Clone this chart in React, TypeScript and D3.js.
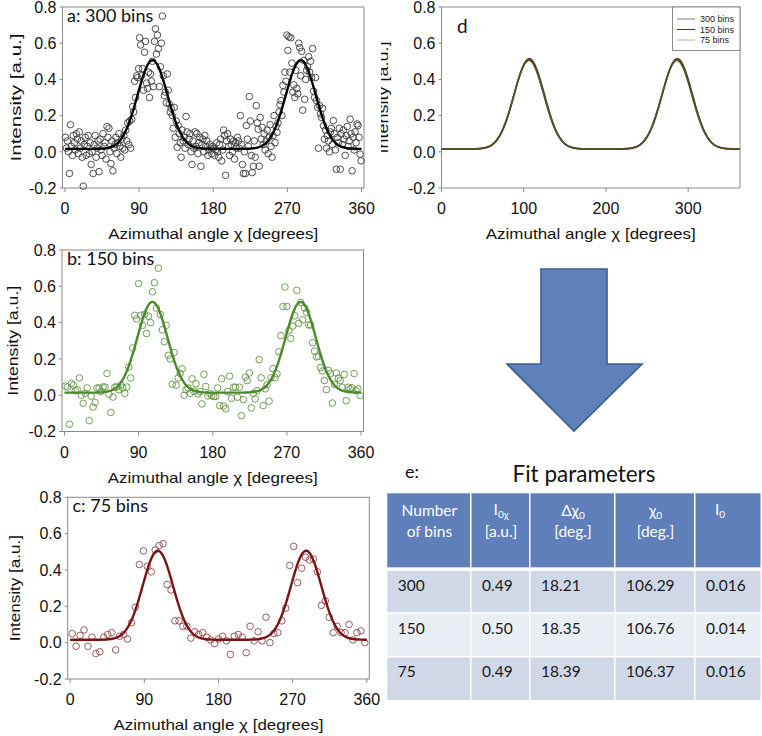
import React from "react";
import * as d3 from "d3";

// measured intensities, one value per angular bin (bin centres at (i + 0.5) * 360 / n)
const BINS_300 = [
  0.08, 0.02, 0.06, 0.0, -0.12, 0.15, 0.03, -0.02, 0.09, 0.05, 0.01, 0.1, 0.07, -0.01, 0.11, 0.02, 0.06, -0.03, -0.19, 0.04, 0.08, -0.02, 0.03, 0.09, -0.01,
  0.05, -0.07, 0.0, -0.12, 0.04, 0.09, -0.03, 0.02, 0.06, -0.11, 0.07, 0.01, -0.02, 0.1, 0.03, 0.05, -0.04, 0.14, 0.08, 0.13, 0.0, -0.065, 0.06, -0.105, 0.02,
  0.04, 0.08, -0.01, 0.05, 0.1, 0.03, -0.03, 0.07, 0.02, 0.09, 0.01, 0.12, 0.06, 0.16, 0.04, 0.17, 0.02, 0.18, 0.25, 0.22, 0.39, 0.3, 0.42, 0.41, 0.46,
  0.63, 0.59, 0.42, 0.46, 0.34, 0.55, 0.61, 0.38, 0.35, 0.44, 0.3, 0.43, 0.39, 0.5, 0.36, 0.61, 0.68, 0.54, 0.645, 0.57, 0.36, 0.47, 0.6, 0.75, 0.42,
  0.31, 0.33, 0.27, 0.43, 0.34, 0.265, 0.22, 0.24, 0.2, 0.13, 0.245, 0.08, 0.17, 0.025, 0.145, 0.1, 0.05, -0.03, 0.12, 0.06, 0.08, 0.02, 0.195, 0.11, 0.04,
  0.07, 0.1, 0.0, -0.07, 0.06, 0.02, 0.11, 0.03, 0.1, -0.01, 0.05, 0.08, -0.08, 0.04, 0.07, 0.0, 0.09, 0.03, 0.06, -0.02, 0.01, 0.04, 0.02, -0.01, 0.03,
  0.02, -0.02, 0.01, 0.05, 0.0, -0.03, 0.04, 0.07, -0.05, 0.01, 0.12, 0.09, -0.13, 0.06, 0.1, 0.03, -0.02, 0.07, 0.04, 0.0, 0.06, -0.04, 0.05, 0.02, 0.08,
  0.06, 0.02, 0.2, 0.04, -0.07, -0.12, 0.0, -0.12, 0.145, 0.07, 0.03, 0.305, 0.17, -0.02, -0.115, -0.08, 0.06, -0.03, 0.255, 0.16, 0.125, -0.08, 0.19, 0.07, 0.135,
  0.04, 0.1, 0.01, 0.06, 0.12, -0.01, 0.08, 0.15, 0.03, -0.03, 0.09, 0.2, 0.05, 0.14, 0.107, 0.16, 0.22, 0.26, 0.283, 0.2, 0.367, 0.33, 0.44, 0.39, 0.645,
  0.56, 0.635, 0.44, 0.63, 0.49, 0.33, 0.37, 0.3, 0.45, 0.35, 0.32, 0.6, 0.575, 0.42, 0.555, 0.23, 0.505, 0.29, 0.4, 0.45, 0.47, 0.525, 0.44, 0.5, 0.41,
  0.57, 0.335, 0.3, 0.41, 0.283, 0.246, 0.02, 0.255, 0.21, 0.19, 0.24, 0.144, 0.07, 0.12, 0.02, 0.09, 0.06, 0.0, 0.11, 0.13, 0.04, 0.172, 0.1, 0.01, -0.096,
  0.08, 0.05, 0.13, -0.096, 0.1, 0.04, 0.12, 0.07, -0.02, 0.09, 0.14, 0.03, 0.06, 0.18, 0.1, -0.105, 0.08, 0.01, 0.11, 0.05, 0.154, 0.145, 0.08, -0.013, -0.05,
];

const BINS_150 = [
  0.05, 0.045, -0.16, 0.065, 0.055, 0.025, 0.03,
  0.095, 0.0, -0.045, 0.01, 0.04, -0.14, -0.005, -0.065, -0.04, 0.04, 0.04, 0.02,
  0.045, 0.045, 0.12, 0.005, -0.095, -0.01, 0.045, 0.045, 0.03, 0.055, 0.04,
  0.01, 0.045, 0.155, 0.095, 0.26, 0.44, 0.42, 0.615, 0.44, 0.385, 0.445, 0.34, 0.435, 0.4, 0.57, 0.62,
  0.48, 0.7, 0.445, 0.36, 0.295, 0.385, 0.22, 0.2, 0.06, 0.235, 0.055, 0.095, 0.12, 0.145, 0.0, 0.03,
  0.04, 0.01, 0.09, 0.022, 0.063, 0.007, 0.02,
  -0.048, 0.115, 0.048, -0.004, 0.01, -0.004,
  -0.007, -0.007, 0.04, -0.057, 0.09, -0.06, -0.075, 0.02,
  0.105, -0.017, 0.044, 0.044, -0.011, 0.044, -0.113, -0.024, 0.1, 0.081, 0.122, -0.07, 0.01,
  -0.02, 0.026, 0.196, 0.096, -0.057, 0.035, 0.057, -0.033, 0.096, 0.146, 0.096, 0.118, 0.239, 0.328,
  0.489, 0.596, 0.489, 0.356, 0.313, 0.381, 0.437, 0.578, 0.396, 0.511, 0.415, 0.48, 0.456, 0.387,
  0.387, 0.289, 0.243, 0.211, 0.215, 0.152, 0.133, 0.081, 0.031, 0.137, 0.119, -0.043, 0.06,
  0.122, 0.094, 0.081, 0.044, 0.115, -0.03, 0.044, 0.035, 0.041, 0.119, 0.026, 0.035, -0.002,
];

const BINS_75 = [
  0.05, -0.02, 0.04, 0.07, -0.02, 0.03, -0.06, -0.05, 0.03,
  0.045, 0.055, -0.04, 0.035, 0.045, 0.02, 0.11, 0.195, 0.43, 0.505, 0.42, 0.39, 0.51, 0.535, 0.545,
  0.32, 0.29, 0.12, 0.12, 0.09, 0.09, 0.025, 0.06, 0.045, 0.055, 0.03, 0.015, -0.005, 0.02, 0.035, 0.01,
  -0.065, 0.035, 0.045, 0.03, -0.055, 0.09, 0.01, 0.06,
  0.01, 0.14, 0.0, 0.05, 0.055, 0.12, 0.19, 0.425, 0.53, 0.33, 0.41, 0.47, 0.455, 0.46, 0.39,
  0.205, 0.23, 0.14, 0.055, 0.09, 0.055, 0.055, 0.1, 0.015, 0.055, 0.065, 0.0,
];

// fit parameters (table e), order: 300, 150, 75 bins
const BIN_LABELS = ["300", "150", "75"];
const FIT_I0CHI = [0.49, 0.5, 0.49];
const FIT_DCHI = [18.21, 18.35, 18.39];
const FIT_CHI0 = [106.29, 106.76, 106.37];
const FIT_I0 = [0.016, 0.014, 0.016];

const X_TICKS_ABC = [0, 90, 180, 270, 360];
const X_TICKS_D = [0, 100, 200, 300];
const Y_TICKS = [-0.2, 0, 0.2, 0.4, 0.6, 0.8];
const LEGEND_D = ["300 bins", "150 bins", "75 bins"];

const AXIS_FONT = "'Liberation Sans', Arial, sans-serif";
const LABEL_FONT = "Lato, 'Open Sans', sans-serif";
const FRAME = "#8a8a8a";
const X_TITLE = "Azimuthal angle \u03c7 [degrees]";

const fitValue = (k: number, a: number) => {
  const s2 = 2 * FIT_DCHI[k] * FIT_DCHI[k];
  const g1 = Math.exp(-Math.pow(a - FIT_CHI0[k], 2) / s2);
  const g2 = Math.exp(-Math.pow(a - FIT_CHI0[k] - 180, 2) / s2);
  return FIT_I0[k] + FIT_I0CHI[k] * (g1 + g2);
};

type Box = { left: number; right: number; top: number; bottom: number };

function Frame({ box, x, y, xTicks, yTitleLen, yTitleX, clipId }: any) {
  const cx = (box.left + box.right) / 2;
  const cy = (box.top + box.bottom) / 2;
  return (
    <g fontFamily={AXIS_FONT} fill="#111">
      <rect x={box.left} y={box.top} width={box.right - box.left} height={box.bottom - box.top}
        fill="none" stroke={FRAME} strokeWidth={1} />
      {Y_TICKS.map((t) => (
        <g key={"y" + t}>
          <line x1={box.left - 3} x2={box.left} y1={y(t)} y2={y(t)} stroke={FRAME} />
          <text x={box.left - 6} y={y(t)} dy="0.36em" textAnchor="end" fontSize={16}>
            {t.toFixed(1)}
          </text>
        </g>
      ))}
      {xTicks.map((t: number) => (
        <g key={"x" + t}>
          <line x1={x(t)} x2={x(t)} y1={box.bottom} y2={box.bottom + 4} stroke={FRAME} />
          <text x={x(t)} y={box.bottom + 26} textAnchor="middle" fontSize={16}>{t}</text>
        </g>
      ))}
      <text x={cx} y={box.bottom + 51} textAnchor="middle" fontSize={15}
        textLength={210} lengthAdjust="spacingAndGlyphs">{X_TITLE}</text>
      <g clipPath={clipId ? `url(#${clipId})` : undefined}>
        <text transform={`translate(${yTitleX},${cy}) rotate(-90)`} dy="0.36em" textAnchor="middle"
          fontSize={15} textLength={yTitleLen} lengthAdjust="spacingAndGlyphs">Intensity [a.u.]</text>
      </g>
    </g>
  );
}

function ScatterPanel({ box, values, fit, label, labelX, dotColor, lineColor, yTitleLen, yTitleX }: any) {
  const x = d3.scaleLinear().domain([-3, 363]).range([box.left, box.right]);
  const y = d3.scaleLinear().domain([-0.2, 0.8]).range([box.bottom, box.top]);
  const step = 360 / values.length;
  const pts = values.map((v: number, i: number) => ({ a: (i + 0.5) * step, v }));
  const curve = d3.range(0, 360.25, 0.5).map((a) => ({ a, v: fitValue(fit, a) }));
  const line = d3.line<any>().x((d) => x(d.a)).y((d) => y(d.v));
  return (
    <g>
      <Frame box={box} x={x} y={y} xTicks={X_TICKS_ABC} yTitleLen={yTitleLen} yTitleX={yTitleX} />
      {pts.map((p: any, i: number) => (
        <circle key={i} cx={x(p.a)} cy={y(p.v)} r={3.3} fill="none" stroke={dotColor} strokeWidth={0.9} />
      ))}
      <path d={line(curve) || ""} fill="none" stroke={lineColor} strokeWidth={2.4} />
      <text x={labelX} y={box.top + 14.5} fontFamily={LABEL_FONT} fontSize={18} fill="#111">{label}</text>
    </g>
  );
}

function OverlayPanel({ box }: { box: Box }) {
  const x = d3.scaleLinear().domain([0, 363]).range([box.left, box.right]);
  const y = d3.scaleLinear().domain([-0.2, 0.8]).range([box.bottom, box.top]);
  const line = d3.line<any>().x((d) => x(d.a)).y((d) => y(d.v));
  // legend swatches and the colours the overlapping curves blend into
  const legendColors = ["#7d7d7d", "#6e2222", "#9cbc7e"];
  const plotColors = ["#6b6b6b", "#5a3020", "#4f5428"];
  const curves = [0, 1, 2].map((k) => d3.range(0, 363.25, 0.5).map((a) => ({ a, v: fitValue(k, a) })));
  const lx = 672.5;
  return (
    <g>
      <defs>
        <clipPath id="clipD">
          <rect x={381} y={0} width={70} height={200} />
        </clipPath>
      </defs>
      <Frame box={box} x={x} y={y} xTicks={X_TICKS_D} yTitleLen={112} yTitleX={383} clipId="clipD" />
      {curves.map((c, k) => (
        <path key={k} d={line(c) || ""} fill="none" stroke={plotColors[k]} strokeWidth={1.6} />
      ))}
      <text x={457} y={33} fontFamily={LABEL_FONT} fontSize={19} fill="#111">d</text>
      <rect x={lx} y={box.top} width={box.right - lx} height={43.5} fill="#fff" stroke={FRAME} />
      {LEGEND_D.map((s, k) => (
        <g key={s}>
          <line x1={677} x2={695} y1={19 + k * 10.5} y2={19 + k * 10.5} stroke={legendColors[k]} strokeWidth={1} />
          <text x={700} y={19 + k * 10.5} dy="0.35em" fontFamily={AXIS_FONT} fontSize={9} fill="#222">{s}</text>
        </g>
      ))}
    </g>
  );
}

function Arrow() {
  const pts = [
    [541, 269], [607, 269], [607, 364], [642, 364], [574, 431], [507, 364], [541, 364],
  ];
  return <polygon points={pts.map((p) => p.join(",")).join(" ")} fill="#6080bb" stroke="#3e5d8d" strokeWidth={1.6} />;
}

function FitTable() {
  const cols = [387.3, 471.5, 530.5, 615.5, 695.5, 762];
  const rowTops = [571, 614, 657.5];
  const rowH = [41.3, 42, 42.5];
  const fills = ["#d0d8e8", "#e9edf4", "#d0d8e8"];
  const rows = BIN_LABELS.map((b, i) => [
    b, FIT_I0CHI[i].toFixed(2), FIT_DCHI[i].toFixed(2), FIT_CHI0[i].toFixed(2), FIT_I0[i].toFixed(3),
  ]);
  const mid = (c: number) => (cols[c] + cols[c + 1]) / 2;
  return (
    <g fontFamily={LABEL_FONT}>
      <text x={405} y={478} fontSize={18} fill="#111">e:</text>
      <text x={584} y={481.5} fontSize={22.5} textAnchor="middle" fill="#111">Fit parameters</text>
      {cols.slice(0, 5).map((c, j) => (
        <rect key={"h" + j} x={c} y={493.3} width={cols[j + 1] - c - 1.5} height={74} fill="#5e7fba" />
      ))}
      {rows.map((r, i) =>
        r.map((v, j) => (
          <g key={i + "-" + j}>
            <rect x={cols[j]} y={rowTops[i]} width={cols[j + 1] - cols[j] - 1.5} height={rowH[i]} fill={fills[i]} />
            <text x={cols[j] + 10.5} y={rowTops[i] + 19.5} fontSize={15.5} fill="#1a1a1a">{v}</text>
          </g>
        ))
      )}
      <g fill="#fff" fontSize={15.5} textAnchor="middle">
        <text x={mid(0)} y={516}>Number</text>
        <text x={mid(0)} y={536.5}>of bins</text>
        <text x={mid(1)} y={515}>I<tspan fontSize={10} dy={3}>0χ</tspan></text>
        <text x={mid(1)} y={536.5}>[a.u.]</text>
        <text x={mid(2)} y={516}>Δχ<tspan fontSize={10} dy={3}>0</tspan></text>
        <text x={mid(2)} y={536.5}>[deg.]</text>
        <text x={mid(3)} y={516}>χ<tspan fontSize={10} dy={3}>0</tspan></text>
        <text x={mid(3)} y={536.5}>[deg.]</text>
        <text x={720} y={515}>I<tspan fontSize={10} dy={3}>0</tspan></text>
      </g>
    </g>
  );
}

export default function App() {
  return (
    <svg width={762} height={736} style={{ position: "absolute", left: 0, top: 0, background: "#fff" }}>
      <rect width={762} height={736} fill="#fff" />
      <ScatterPanel box={{ left: 62.5, right: 364, top: 7, bottom: 188 }} values={BINS_300} fit={0}
        label="a: 300 bins" labelX={67} dotColor="#3a3a3a" lineColor="#000" yTitleLen={128} yTitleX={16} />
      <ScatterPanel box={{ left: 62, right: 363.5, top: 250, bottom: 431.5 }} values={BINS_150} fit={1}
        label="b: 150 bins" labelX={67} dotColor="#5f9444" lineColor="#4a8a2c" yTitleLen={110} yTitleX={13} />
      <ScatterPanel box={{ left: 67.7, right: 369.3, top: 497.3, bottom: 679 }} values={BINS_75} fit={2}
        label="c: 75 bins" labelX={72.5} dotColor="#8e4a4a" lineColor="#7a1414" yTitleLen={106} yTitleX={15} />
      <OverlayPanel box={{ left: 441.5, right: 740, top: 7, bottom: 188 }} />
      <Arrow />
      <FitTable />
    </svg>
  );
}
